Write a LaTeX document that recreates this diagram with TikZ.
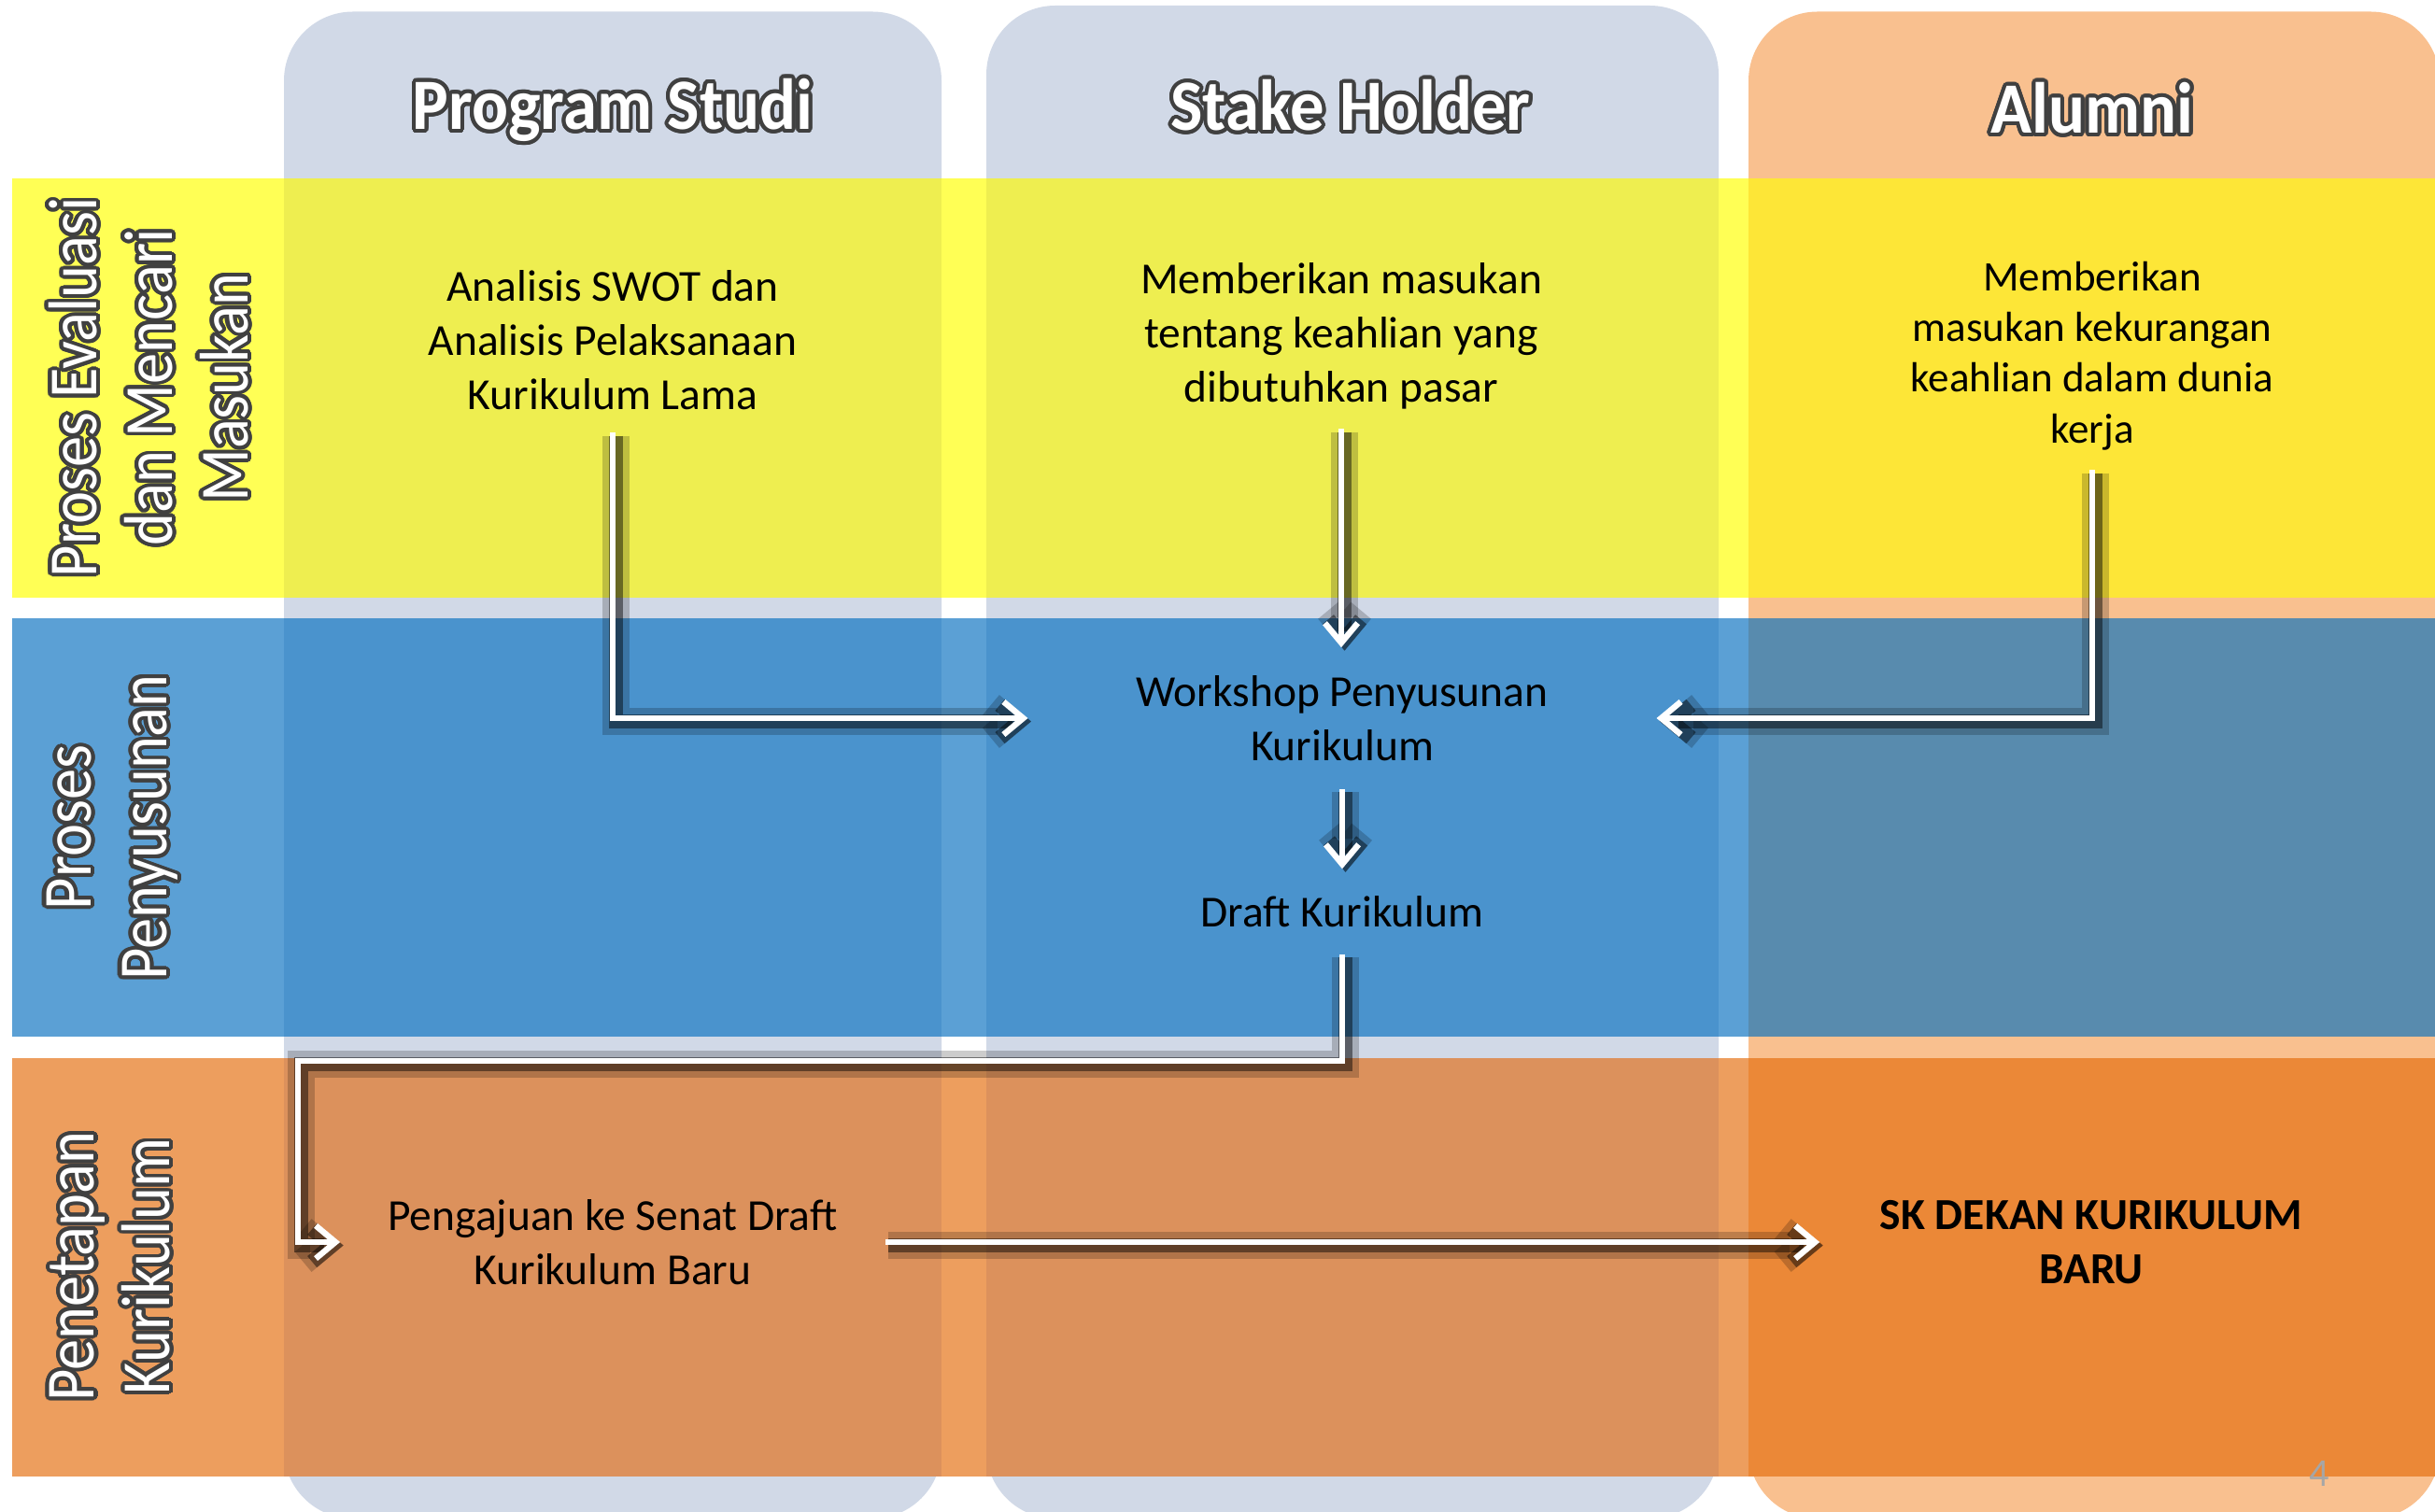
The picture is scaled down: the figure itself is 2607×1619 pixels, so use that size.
\documentclass[tikz,border=0pt]{standalone}
\usepackage{fontspec}
\setmainfont{Carlito}
\usepackage{contour}
\contourlength{1.2pt}
\contournumber{24}
\usetikzlibrary{arrows.meta}

\definecolor{colgray}{HTML}{D1D9E7}
\definecolor{colpeach}{HTML}{F9C08F}
\definecolor{yelA}{HTML}{FFFF55}
\definecolor{yelB}{HTML}{EEEE50}
\definecolor{yelC}{HTML}{FDE637}
\definecolor{bluA}{HTML}{5BA0D5}
\definecolor{bluB}{HTML}{4A93CD}
\definecolor{bluC}{HTML}{588BAE}
\definecolor{orgA}{HTML}{ED9E5E}
\definecolor{orgB}{HTML}{DC915C}
\definecolor{orgC}{HTML}{EB8837}

\newcommand{\glowtxt}[1]{\contour{black!75}{#1}}
\newcommand{\sqtxt}[1]{\scalebox{0.9}[1]{\contour{black!75}{#1}}}

\begin{document}
\begin{tikzpicture}
[x=0.01cm,y=-0.01cm,
flow/.style={draw=white,line width=1.8pt,-{Straight Barb[length=6pt,width=10pt]},
  preaction={draw=black,opacity=.2,line width=8pt,transform canvas={xshift=1pt,yshift=-1pt}},
  preaction={draw=black,opacity=.45,line width=4.5pt,transform canvas={xshift=1pt,yshift=-1pt}}},
txt/.style={align=center,font=\fontsize{13.5}{16.5}\selectfont},
hdr/.style={text=white,font=\fontsize{22}{26}\selectfont\bfseries},
lbl/.style={text=white,align=center,rotate=90,font=\fontsize{21}{23}\selectfont}]
\useasboundingbox (0,0) rectangle (2607,1619);
\clip (0,0) rectangle (2607,1619);

% columns
\foreach \xa/\ya/\xb/\c in {304/12.5/1008/colgray,1056/6/1840/colgray,1872/12.5/2612/colpeach}
  \fill[\c,rounded corners=21pt] (\xa,\ya) rectangle (\xb,1626);

% rows
\foreach \ya/\yb/\rowc/\midc/\aluc in {191/640/yelA/yelB/yelC,662/1110/bluA/bluB/bluC,1133/1581/orgA/orgB/orgC}
{
  \fill[\rowc] (13,\ya) rectangle (2607,\yb);
  \fill[\midc] (304,\ya) rectangle (1008,\yb);
  \fill[\midc] (1056,\ya) rectangle (1840,\yb);
  \fill[\aluc] (1872,\ya) rectangle (2607,\yb);
}

\node[hdr] (hProdi) at (656,120) {\scalebox{0.94}[1]{\glowtxt{Program Studi}}};
\node[hdr] (hStake) at (1446,115) {\scalebox{0.94}[1]{\glowtxt{Stake Holder}}};
\node[hdr] (hAlumni) at (2240,118) {\scalebox{0.94}[1]{\glowtxt{Alumni}}};

\node[lbl] (lEval) at (161,415) {\sqtxt{Proses Evaluasi}\\\sqtxt{dan Mencari}\\\sqtxt{Masukan}};
\node[lbl] (lSusun) at (122,886) {\sqtxt{Proses}\\\sqtxt{Penyusunan}};
\node[lbl] (lTetap) at (120,1356) {\sqtxt{Penetapan}\\\sqtxt{Kurikulum}};

\node[txt,minimum height=56pt] (swot) at (656,364) {Analisis SWOT dan\\Analisis Pelaksanaan\\Kurikulum Lama};
\node[txt,minimum height=56pt] (stake) at (1436,360) {Memberikan masukan\\tentang keahlian yang\\dibutuhkan pasar};
\node[txt,minimum height=69pt,font=\fontsize{12.8}{15.4}\selectfont] (alum) at (2240,381) {Memberikan\\masukan kekurangan\\keahlian dalam dunia\\kerja};
\node[txt,minimum width=191pt,minimum height=42.7pt] (workshop) at (1437,769) {Workshop Penyusunan\\Kurikulum};
\node[txt,minimum height=25.6pt] (draft) at (1437,976) {Draft Kurikulum};
\node[txt,minimum width=165.6pt] (senat) at (656,1330) {Pengajuan ke Senat Draft\\Kurikulum Baru};
\node[txt,minimum width=165pt,font=\fontsize{13.5}{16.5}\selectfont\bfseries] (skdekan) at (2239,1330) {SK DEKAN KURIKULUM\\BARU};
\coordinate (k1) at (319,1136);

\draw[flow] (swot.south) |- (workshop.west);
\draw[flow] (stake.south) -- (stake.south |- workshop.north);
\draw[flow] (alum.south) |- (workshop.east);
\draw[flow] (workshop.south) -- (draft.north);
\draw[flow] (draft.south) |- (k1) |- (senat.west);
\draw[flow] (senat.east) -- (skdekan.west);

\node[text=gray!70,font=\fontsize{12}{14}\selectfont] (pnum) at (2483,1578) {4};
\end{tikzpicture}
\end{document}
